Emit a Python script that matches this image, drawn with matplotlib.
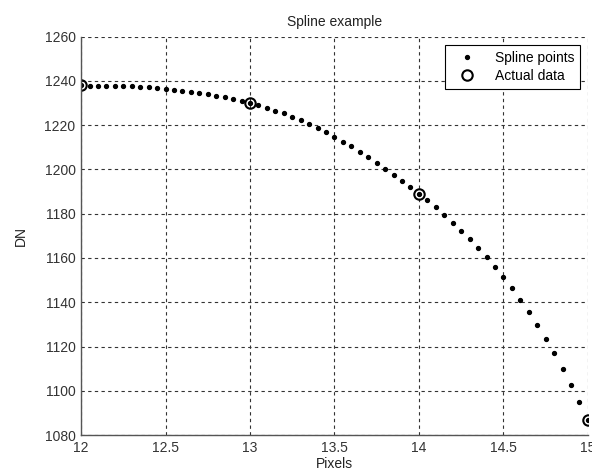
import numpy as np
import matplotlib
matplotlib.use('Agg')
import matplotlib.pyplot as plt

# measured data points
data_x = [12, 13, 14, 15]
data_y = [1238, 1230, 1189, 1087]

spline_x = [12.00, 12.05, 12.10, 12.15, 12.20, 12.25, 12.30, 12.35, 12.40, 12.45,
            12.50, 12.55, 12.60, 12.65, 12.70, 12.75, 12.80, 12.85, 12.90, 12.95,
            13.00, 13.05, 13.10, 13.15, 13.20, 13.25, 13.30, 13.35, 13.40, 13.45,
            13.50, 13.55, 13.60, 13.65, 13.70, 13.75, 13.80, 13.85, 13.90, 13.95,
            14.00, 14.05, 14.10, 14.15, 14.20, 14.25, 14.30, 14.35, 14.40, 14.45,
            14.50, 14.55, 14.60, 14.65, 14.70, 14.75, 14.80, 14.85, 14.90, 14.95,
            15.00]
spline_y = [1238.0, 1237.9, 1237.9, 1237.9, 1237.8, 1237.7, 1237.6, 1237.4, 1237.2, 1236.9,
            1236.5, 1236.1, 1235.6, 1235.1, 1234.5, 1233.9, 1233.3, 1232.6, 1231.8, 1230.9,
            1230.0, 1229.1, 1227.9, 1226.6, 1225.3, 1223.8, 1222.2, 1220.5, 1218.7, 1216.8,
            1214.8, 1212.6, 1210.4, 1208.0, 1205.6, 1203.0, 1200.4, 1197.7, 1194.9, 1192.0,
            1189.0, 1186.0, 1182.9, 1179.5, 1176.0, 1172.3, 1168.5, 1164.5, 1160.4, 1156.0,
            1151.3, 1146.5, 1141.2, 1135.6, 1129.7, 1123.6, 1117.0, 1110.0, 1102.7, 1095.0,
            1087.0]

xticks = [12, 12.5, 13, 13.5, 14, 14.5, 15]
xticklabels = ['12', '12.5', '13', '13.5', '14', '14.5', '15']
yticks = list(range(1080, 1261, 20))

plt.rcParams['font.family'] = ['Liberation Sans', 'DejaVu Sans']
plt.rcParams['font.size'] = 10

fig = plt.figure(figsize=(5.92, 4.76), dpi=100)
ax = fig.add_axes([0.137, 0.086, 0.856, 0.837])

ax.plot(spline_x, spline_y, linestyle='none', marker='o', markersize=2.8,
        color='black', label='Spline points')
ax.plot(data_x, data_y, linestyle='none', marker='o', markersize=7.5,
        markerfacecolor='none', markeredgecolor='black', markeredgewidth=1.5,
        label='Actual data')

ax.set_xlim(12, 15)
ax.set_ylim(1080, 1260)
ax.set_xticks(xticks)
ax.set_xticklabels(xticklabels)
ax.set_yticks(yticks)
ax.grid(True, linestyle=(0, (3, 3)), color='#333333', linewidth=0.8)
ax.tick_params(direction='in', length=0, pad=4, colors='#333333')

for s in ['top', 'right']:
    ax.spines[s].set_visible(False)
for s in ['left', 'bottom']:
    ax.spines[s].set_color('#555555')
    ax.spines[s].set_linewidth(1.0)

ax.set_title('Spline example', fontsize=10, pad=8, color='#222222')
ax.set_xlabel('Pixels', labelpad=2, color='#222222')
ax.set_ylabel('DN', labelpad=12, color='#222222')

leg = ax.legend(loc='upper right', bbox_to_anchor=(0.985, 0.98), fancybox=False,
                framealpha=1, edgecolor='black', borderpad=0.45, handletextpad=0.9,
                labelspacing=0.3, handlelength=2.2, borderaxespad=0.0)
leg.get_frame().set_linewidth(0.8)

fig.savefig('out.png', dpi=100)
plt.close()
